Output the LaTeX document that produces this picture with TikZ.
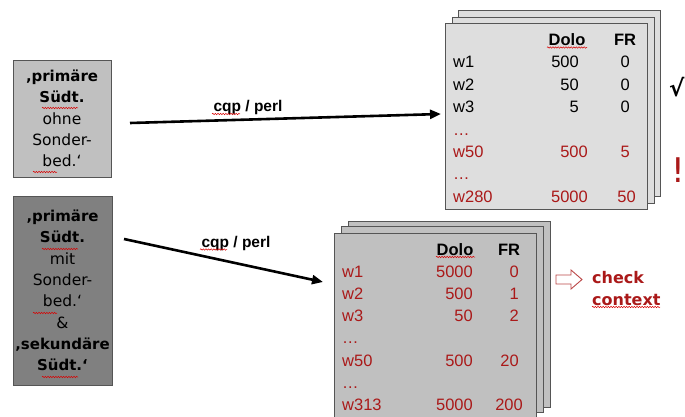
\documentclass[tikz,border=0pt]{standalone}
\usepackage{fontspec}
\setmainfont{DejaVu Sans}
\newfontfamily\arialf{Liberation Sans}
\usetikzlibrary{arrows.meta,decorations.pathmorphing}
\definecolor{dred}{RGB}{170,25,25}
\definecolor{edgeg}{RGB}{85,85,85}
\definecolor{lgray}{RGB}{192,192,192}
\definecolor{dgray}{RGB}{128,128,128}
\definecolor{cardtop}{RGB}{222,222,222}
\definecolor{cardbot}{RGB}{192,192,192}
\tikzset{
  lbox/.style={draw=edgeg, line width=0.9pt, inner sep=0pt, align=center,
    font=\fontsize{15}{21.3}\selectfont},
  card/.style={draw=edgeg, line width=0.9pt, minimum width=202pt, minimum height=186pt, inner sep=0pt},
  cell/.style={font=\arialf\fontsize{16.5}{20}\selectfont, inner sep=0pt},
  hdr/.style={cell, font=\arialf\bfseries\fontsize{16.5}{20}\selectfont, anchor=base},
  lab/.style={cell, anchor=base west},
  num/.style={cell, anchor=base east},
  red/.style={text=dred},
  conn/.style={line width=2.6pt, -{Triangle[length=11pt,width=9pt]}},
  lbl/.style={font=\arialf\bfseries\fontsize{15.5}{18}\selectfont, inner sep=0pt, anchor=base},
  spell/.style={draw=red!85!black, line width=0.5pt, decorate,
    decoration={snake, amplitude=0.7pt, segment length=2.6pt}}
}
\begin{document}
\begin{tikzpicture}[x=1pt,y=-1pt]
\useasboundingbox (0,0) rectangle (685,417);
\clip (0,0) rectangle (685,417);

% left boxes
\node[lbox, fill=lgray, minimum width=98pt, minimum height=117pt] (b1) at (62,118.5)
  {\textbf{‚primäre}\\ \textbf{Südt.}\\ {\fontsize{15.5}{21.3}\selectfont ohne}\\ {\fontsize{15.5}{21.3}\selectfont Sonder-}\\ {\fontsize{15.5}{21.3}\selectfont bed.‘}};
\node[lbox, fill=dgray, minimum width=99pt, minimum height=189pt] (b2) at (62.5,290.5)
  {\textbf{‚primäre}\\ \textbf{Südt.}\\ {\fontsize{15.5}{21.3}\selectfont mit}\\ {\fontsize{15.5}{21.3}\selectfont Sonder-}\\ {\fontsize{15.5}{21.3}\selectfont bed.‘}\\ {\fontsize{15.5}{21.3}\selectfont \&}\\ \textbf{‚sekundäre}\\ \textbf{Südt.‘}};

% top card stack
\node[card, fill=cardtop] (t3) at (559.5,103.5) {};
\node[card, fill=cardtop] (t2) at (553,110) {};
\node[card, fill=cardtop] (t1) at (546,116) {};

\node[hdr] (tdolo) at (567,45.5) {Dolo};
\node[hdr] (tfr) at (625,45.5) {FR};
\node[lab] (tw1) at (453,67.9) {w1};
\node[num] (td1) at (579,67.9) {500};
\node[num] (tf1) at (630,67.9) {0};
\node[lab] (tw2) at (453,90.3) {w2};
\node[num] (td2) at (579,90.3) {50};
\node[num] (tf2) at (630,90.3) {0};
\node[lab] (tw3) at (453,112.7) {w3};
\node[num] (td3) at (579,112.7) {5};
\node[num] (tf3) at (630,112.7) {0};
\node[lab, red] (te1) at (453,135.1) {…};
\node[lab, red] (tw50) at (453,157.5) {w50};
\node[num, red] (td50) at (588,157.5) {500};
\node[num, red] (tf50) at (630,157.5) {5};
\node[lab, red] (te2) at (453,179.9) {…};
\node[lab, red] (tw280) at (453,202.3) {w280};
\node[num, red] (td280) at (588,202.3) {5000};
\node[num, red] (tf280) at (636,202.3) {50};

\node[font=\bfseries\fontsize{23}{24}\selectfont, inner sep=0pt, anchor=base west] (chk) at (669,97) {√};
\node[font=\fontsize{34}{36}\selectfont, text=dred, inner sep=0pt, anchor=base] (excl) at (678.5,182) {!};

% bottom card stack
\node[card, fill=cardbot] (u3) at (449,314) {};
\node[card, fill=cardbot] (u2) at (442.5,319.5) {};
\node[card, fill=cardbot] (u1) at (435,326) {};

\node[hdr] (udolo) at (455,255) {Dolo};
\node[hdr] (ufr) at (509,255) {FR};
\node[lab, red] (uw1) at (342,277.2) {w1};
\node[num, red] (ud1) at (473,277.2) {5000};
\node[num, red] (uf1) at (519,277.2) {0};
\node[lab, red] (uw2) at (342,299.4) {w2};
\node[num, red] (ud2) at (473,299.4) {500};
\node[num, red] (uf2) at (519,299.4) {1};
\node[lab, red] (uw3) at (342,321.6) {w3};
\node[num, red] (ud3) at (473,321.6) {50};
\node[num, red] (uf3) at (519,321.6) {2};
\node[lab, red] (ue1) at (342,343.8) {…};
\node[lab, red] (uw50) at (342,366) {w50};
\node[num, red] (ud50) at (473,366) {500};
\node[num, red] (uf50) at (519,366) {20};
\node[lab, red] (ue2) at (342,388.2) {…};
\node[lab, red] (uw313) at (342,410.4) {w313};
\node[num, red] (ud313) at (473,410.4) {5000};
\node[num, red] (uf313) at (523,410.4) {200};

% hollow arrow and check context
\draw[draw=dred!80, line width=0.9pt, fill=white] (556,275) -- (571,275) -- (571,270) -- (582,279.5) -- (571,289) -- (571,284) -- (556,284) -- cycle;
\node[font=\bfseries\fontsize{16}{22}\selectfont, text=dred, align=left, inner sep=0pt, anchor=west] (ctx) at (592,288.5) {check\\context};

% connectors
\coordinate (a1s) at (130,123);
\coordinate (a1e) at (441,114);
\coordinate (a2s) at (124,239);
\coordinate (a2e) at (323,282);
\draw[conn] (a1s) -- (a1e);
\draw[conn] (a2s) -- (a2e);
\node[lbl] (l1) at (248,112) {cqp / perl};
\node[lbl] (l2) at (236,247) {cqp / perl};

% spell-check underlines
\draw[spell] (42,108) -- (78,108);
\draw[spell] (33,172) -- (57,172);
\draw[spell] (42,249) -- (78,249);
\draw[spell] (33,313) -- (57,313);
\draw[spell] (42,377) -- (78,377);
\draw[spell] (547,47.5) -- (587,47.5);
\draw[spell] (436,257) -- (475,257);
\draw[spell] (212,114) -- (240,114);
\draw[spell] (200,249.5) -- (227,249.5);
\draw[spell] (592,307) -- (660,307);
\end{tikzpicture}
\end{document}
